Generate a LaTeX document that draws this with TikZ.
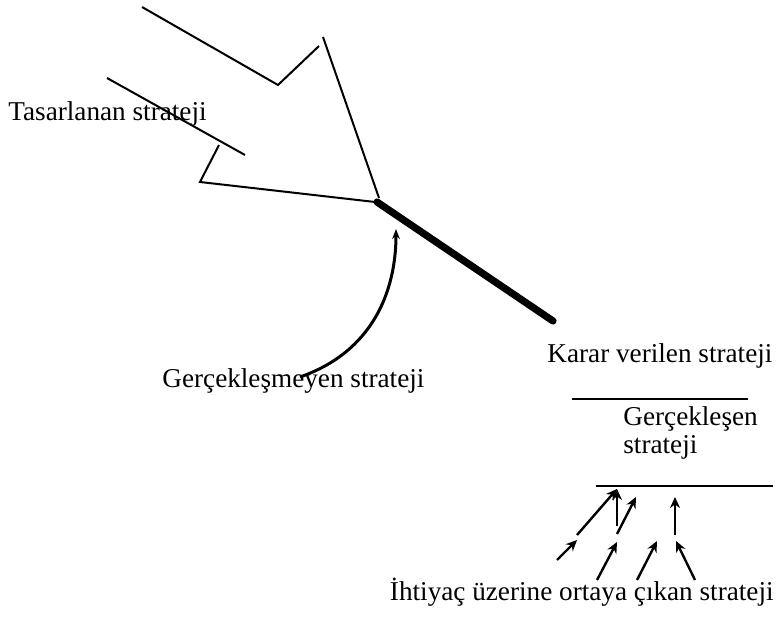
\documentclass[tikz,border=0pt]{standalone}
\usepackage{fontspec}
\setmainfont{Liberation Serif}
\usetikzlibrary{arrows.meta}

\begin{document}
\begin{tikzpicture}[x=0.5pt, y=-0.5pt,
  lbl/.style={font=\fontsize{13.6}{16}\selectfont, inner sep=0pt},
  outl/.style={line width=1pt, black},
  bar/.style={line width=1.1pt, black},
  push/.style={-{Stealth[length=5.5pt, width=5pt]}, line width=1.2pt, black},
  curl/.style={-{Stealth[length=5pt, width=3.8pt]}, line width=1.5pt, black}]
\useasboundingbox (0,0) rectangle (781,620);

% planned strategy: open arrow outline
\draw[outl] (142,7) -- (278,85) -- (319,46);
\draw[outl] (323,37) -- (379,198);
\draw[outl] (107,78) -- (245,155);
\draw[outl] (219,145) -- (200,182) -- (375,202);

% deliberate strategy: heavy stroke
\coordinate (hs) at (377,202);
\coordinate (he) at (553,321);
\draw[line width=3.6pt, line cap=round] (hs) -- (he);

% labels
\node[lbl, anchor=base west] (tas) at (8,121) {Tasarlanan strateji};
\node[lbl, anchor=base west] (ger) at (162,387) {Gerçekleşmeyen strateji};
\node[lbl, anchor=base west] (kar) at (547,362) {Karar verilen strateji};
\node[lbl, anchor=base west] (real) at (623,425) {Gerçekleşen};
\node[lbl, anchor=base west] (real2) at (623,453) {strateji};
\node[lbl, anchor=base east] (ihti) at (774,600) {İhtiyaç üzerine ortaya çıkan strateji};

% unrealized strategy curve
\coordinate (cs) at (300,377);
\coordinate (ct) at (396,229);
\draw[curl] (cs) .. controls (372,352) and (396,292) .. (ct);

% bars above and below the realized strategy
\draw[bar] (572,399) -- (748,399);
\draw[bar] (596,486) -- (773,486);

% emergent strategy arrows
\foreach \n/\x/\y in {a0/577/535, a1/617/489, b0/617/526, b1/617/489,
                      c0/617/534, c1/636/497, d0/675/535, d1/675/497,
                      e0/557/560, e1/577/540, f0/597/580, f1/617/542,
                      g0/637/580, g1/657/541, h0/695/580, h1/676/541}
  \coordinate (\n) at (\x,\y);
\foreach \s/\t in {a0/a1, b0/b1, c0/c1, d0/d1, e0/e1, f0/f1, g0/g1, h0/h1}
  \draw[push] (\s) -- (\t);
\end{tikzpicture}
\end{document}
